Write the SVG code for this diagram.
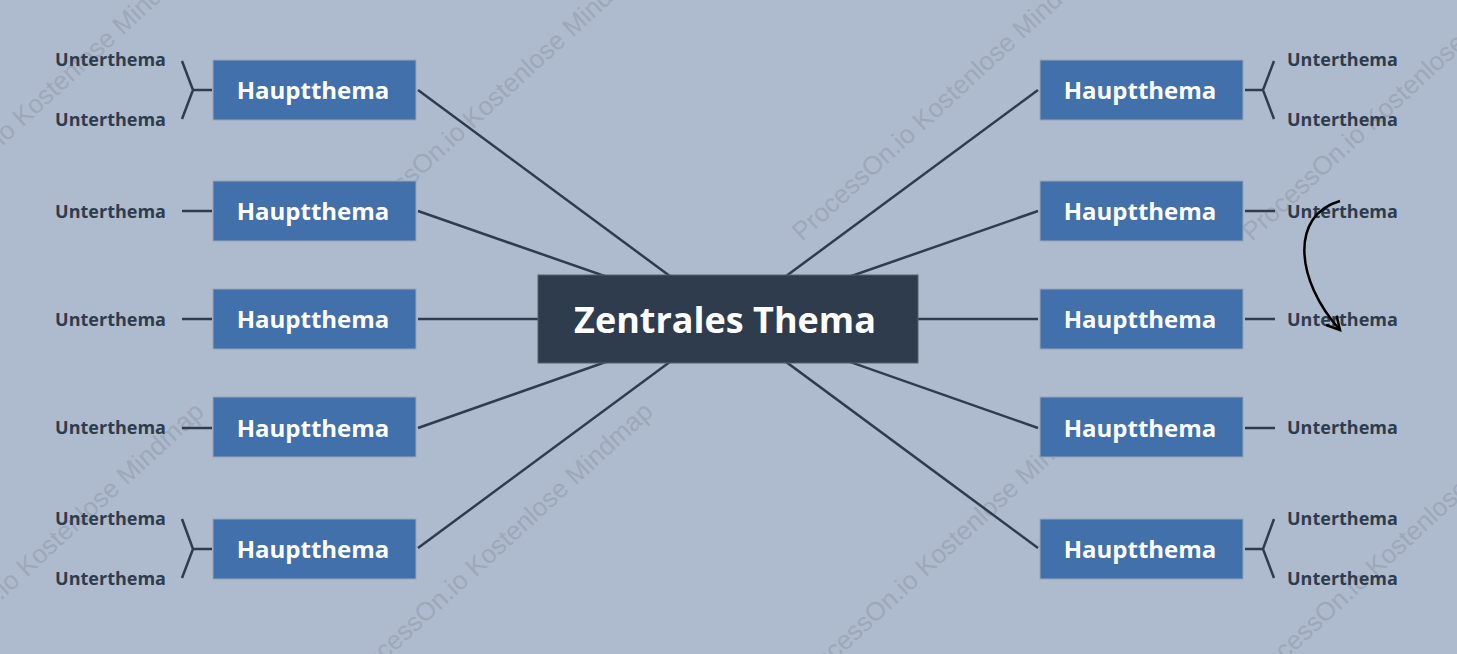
<svg xmlns="http://www.w3.org/2000/svg" width="1457" height="654" viewBox="0 0 1457 654">
  <style>
    .wm { font-family: "Liberation Sans", Arial, sans-serif; font-size: 26px; fill: #9da8b9; }
    .conn { stroke: #2f3c4e; stroke-width: 2.5; fill: none; }
    .main rect { fill: #4270ab; stroke: #99a4b4; stroke-width: 1; }
    .main text { font-family: "Open Sans", "Noto Sans", sans-serif; font-weight: bold; font-size: 24px; fill: #ffffff; text-anchor: middle; }
    .sub { font-family: "Open Sans", "Noto Sans", sans-serif; font-weight: bold; font-size: 18px; fill: #2f3c4e; }
    .subL { text-anchor: end; }
    .subR { text-anchor: start; }
  </style>
  <defs>
    <marker id="arr" markerUnits="userSpaceOnUse" markerWidth="30" markerHeight="30" refX="0" refY="0" viewBox="-15 -15 30 30" orient="auto">
      <path d="M-13,-7 L0,0 L-13,7" fill="none" stroke="#000000" stroke-width="2.5"/>
    </marker>
  </defs>
  <rect x="0" y="0" width="1457" height="654" fill="#aebbcf"/>

  <g id="watermarks">
    <text class="wm" transform="translate(-98,238) rotate(-42.5)">ProcessOn.io Kostenlose Mindmap</text>
    <text class="wm" transform="translate(352,240) rotate(-42.5)">ProcessOn.io Kostenlose Mindmap</text>
    <text class="wm" transform="translate(802,242) rotate(-42.5)">ProcessOn.io Kostenlose Mindmap</text>
    <text class="wm" transform="translate(1252,242) rotate(-42.5)">ProcessOn.io Kostenlose Mindmap</text>
    <text class="wm" transform="translate(-94,688) rotate(-42.5)">ProcessOn.io Kostenlose Mindmap</text>
    <text class="wm" transform="translate(355,688) rotate(-42.5)">ProcessOn.io Kostenlose Mindmap</text>
    <text class="wm" transform="translate(805,688) rotate(-42.5)">ProcessOn.io Kostenlose Mindmap</text>
    <text class="wm" transform="translate(1255,688) rotate(-42.5)">ProcessOn.io Kostenlose Mindmap</text>
  </g>

  <g id="connectors">
    <line class="conn" x1="418" y1="90" x2="728" y2="319"/>
    <line class="conn" x1="418" y1="211" x2="728" y2="319"/>
    <line class="conn" x1="418" y1="319" x2="728" y2="319"/>
    <line class="conn" x1="418" y1="428" x2="728" y2="319"/>
    <line class="conn" x1="418" y1="548" x2="728" y2="319"/>
    <line class="conn" x1="1038" y1="90" x2="728" y2="319"/>
    <line class="conn" x1="1038" y1="211" x2="728" y2="319"/>
    <line class="conn" x1="1038" y1="319" x2="728" y2="319"/>
    <line class="conn" x1="1038" y1="428" x2="728" y2="319"/>
    <line class="conn" x1="1038" y1="548" x2="728" y2="319"/>
    <path class="conn" d="M212,90 H193 M182,61 L193,90 L182,119"/>
    <path class="conn" d="M182,211 H212"/>
    <path class="conn" d="M182,319 H212"/>
    <path class="conn" d="M182,428 H212"/>
    <path class="conn" d="M212,549 H193 M182,519 L193,549 L182,578"/>
    <path class="conn" d="M1245,90 H1263 M1274,61 L1263,90 L1274,119"/>
    <path class="conn" d="M1245,211 H1275"/>
    <path class="conn" d="M1245,319 H1275"/>
    <path class="conn" d="M1245,428 H1275"/>
    <path class="conn" d="M1245,549 H1263 M1274,519 L1263,549 L1274,578"/>
  </g>

  <g id="center">
    <rect x="538" y="275" width="380" height="88" fill="#2f3c4e" stroke="#56606f" stroke-width="1"/>
    <text x="725" y="333" font-family="Open Sans, Noto Sans, sans-serif" font-weight="bold" font-size="36" fill="#ffffff" text-anchor="middle">Zentrales Thema</text>
  </g>

  <g id="main-l1" class="main"><rect x="213" y="60" width="203" height="60"/><text x="313" y="99">Hauptthema</text></g>
  <g id="main-l2" class="main"><rect x="213" y="181" width="203" height="60"/><text x="313" y="220">Hauptthema</text></g>
  <g id="main-l3" class="main"><rect x="213" y="289" width="203" height="60"/><text x="313" y="328">Hauptthema</text></g>
  <g id="main-l4" class="main"><rect x="213" y="397" width="203" height="60"/><text x="313" y="437">Hauptthema</text></g>
  <g id="main-l5" class="main"><rect x="213" y="519" width="203" height="60"/><text x="313" y="558">Hauptthema</text></g>
  <g id="main-r1" class="main"><rect x="1040" y="60" width="203" height="60"/><text x="1140" y="99">Hauptthema</text></g>
  <g id="main-r2" class="main"><rect x="1040" y="181" width="203" height="60"/><text x="1140" y="220">Hauptthema</text></g>
  <g id="main-r3" class="main"><rect x="1040" y="289" width="203" height="60"/><text x="1140" y="328">Hauptthema</text></g>
  <g id="main-r4" class="main"><rect x="1040" y="397" width="203" height="60"/><text x="1140" y="437">Hauptthema</text></g>
  <g id="main-r5" class="main"><rect x="1040" y="519" width="203" height="60"/><text x="1140" y="558">Hauptthema</text></g>

  <g id="sub-l1a"><text class="sub subL" x="166" y="66">Unterthema</text></g>
  <g id="sub-l1b"><text class="sub subL" x="166" y="126">Unterthema</text></g>
  <g id="sub-l2"><text class="sub subL" x="166" y="218">Unterthema</text></g>
  <g id="sub-l3"><text class="sub subL" x="166" y="326">Unterthema</text></g>
  <g id="sub-l4"><text class="sub subL" x="166" y="434">Unterthema</text></g>
  <g id="sub-l5a"><text class="sub subL" x="166" y="525">Unterthema</text></g>
  <g id="sub-l5b"><text class="sub subL" x="166" y="585">Unterthema</text></g>
  <g id="sub-r1a"><text class="sub subR" x="1287" y="66">Unterthema</text></g>
  <g id="sub-r1b"><text class="sub subR" x="1287" y="126">Unterthema</text></g>
  <g id="sub-r2"><text class="sub subR" x="1287" y="218">Unterthema</text></g>
  <g id="sub-r3"><text class="sub subR" x="1287" y="326">Unterthema</text></g>
  <g id="sub-r4"><text class="sub subR" x="1287" y="434">Unterthema</text></g>
  <g id="sub-r5a"><text class="sub subR" x="1287" y="525">Unterthema</text></g>
  <g id="sub-r5b"><text class="sub subR" x="1287" y="585">Unterthema</text></g>

  <g id="curved-arrow">
    <path d="M1340,201 C1290,215 1295,280 1340,330" fill="none" stroke="#000000" stroke-width="2.5" marker-end="url(#arr)"/>
  </g>
</svg>
